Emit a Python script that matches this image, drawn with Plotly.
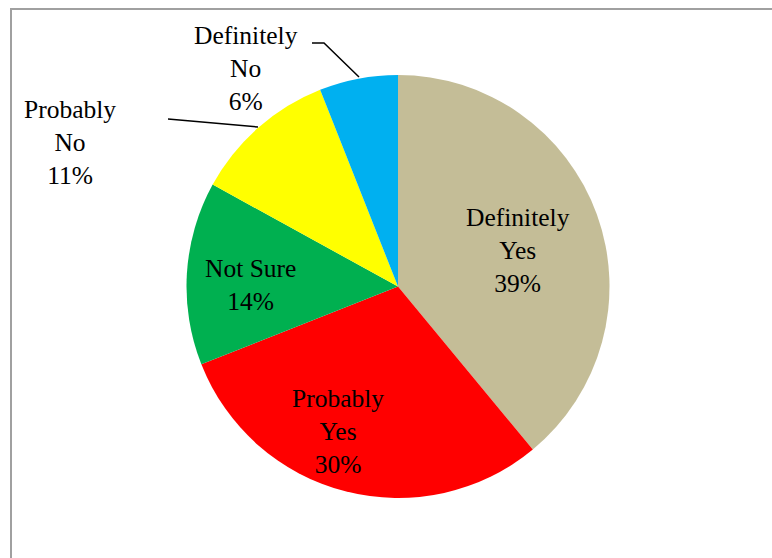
import plotly.graph_objects as go

# Survey responses
categories = ["Definitely Yes", "Probably Yes", "Not Sure", "Probably No", "Definitely No"]
shares = [39, 30, 14, 11, 6]
colors = ["#C4BD97", "#FF0000", "#00B050", "#FFFF00", "#00B0F0"]

W, H = 772, 558
FONT = dict(family="Liberation Serif", size=25.5, color="black")


def px(x):
    return x / W


def py(y):
    return 1 - y / H


# Pie placement (pixel centre and radius)
cx, cy, r = 398, 286.5, 211.5

fig = go.Figure(
    go.Pie(
        labels=categories,
        values=shares,
        marker=dict(colors=colors, line=dict(width=0)),
        sort=False,
        direction="clockwise",
        rotation=0,
        textinfo="none",
        hoverinfo="label+percent",
        showlegend=False,
        domain=dict(x=[px(cx - r), px(cx + r)], y=[py(cy + r), py(cy - r)]),
    )
)

# Label positions (pixel centres) per category
label_pos = {
    "Definitely Yes": (518, 251),
    "Probably Yes": (338, 431),
    "Not Sure": (250, 285),
    "Probably No": (70, 143),
    "Definitely No": (246, 68),
}

annotations = []
for name, val in zip(categories, shares):
    x, y = label_pos[name]
    if name == "Not Sure":
        text = f"{name}<br>{val}%"
    else:
        text = "<br>".join(name.split(" ")) + f"<br>{val}%"
    annotations.append(
        dict(
            x=px(x), y=py(y), xref="paper", yref="paper",
            text=text, showarrow=False, font=FONT,
            xanchor="center", yanchor="middle", align="center",
        )
    )


def path(points):
    return "M " + " L ".join(f"{px(a)},{py(b)}" for a, b in points)


shapes = [
    # outer frame
    dict(type="rect", xref="paper", yref="paper",
         x0=px(11), y0=py(9), x1=1.1, y1=-0.1,
         line=dict(color="#A0A0A0", width=2), fillcolor="rgba(0,0,0,0)"),
    # leader lines for the outside labels
    dict(type="path", xref="paper", yref="paper",
         path=path([(312, 43), (324, 43), (359, 77)]),
         line=dict(color="black", width=1.5)),
    dict(type="path", xref="paper", yref="paper",
         path=path([(168, 119), (258, 127)]),
         line=dict(color="black", width=1.5)),
]

fig.update_layout(
    width=W, height=H,
    margin=dict(l=0, r=0, t=0, b=0),
    paper_bgcolor="white",
    plot_bgcolor="white",
    annotations=annotations,
    shapes=shapes,
)

fig.write_html("out.html")
